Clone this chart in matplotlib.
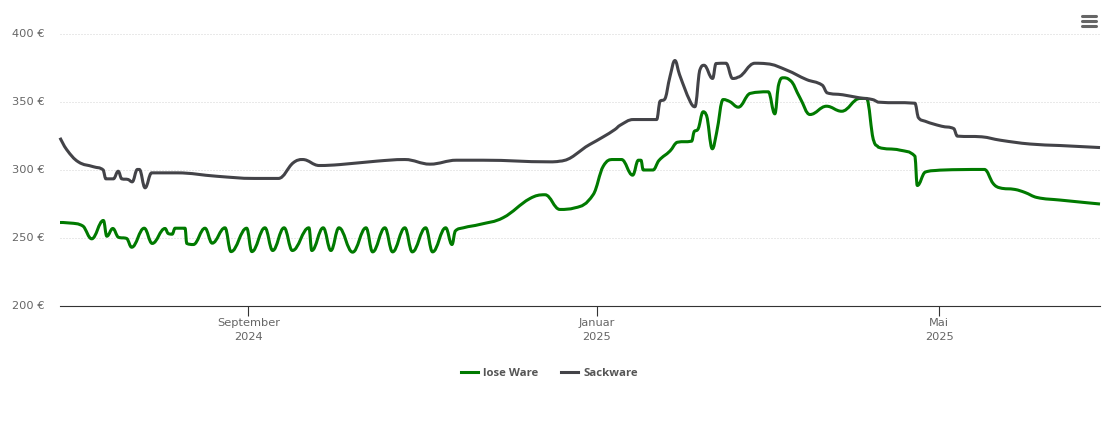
import datetime as dt
import numpy as np
import matplotlib
matplotlib.use("Agg")
import matplotlib.pyplot as plt
from matplotlib.path import Path
from matplotlib.patches import PathPatch
from matplotlib.lines import Line2D

START = dt.date(2024, 6, 27)
END_DAY = 364.3
TICK_DATES = [dt.date(2024, 9, 1), dt.date(2025, 1, 1), dt.date(2025, 5, 1)]
TICK_LABELS = ["September\n2024", "Januar\n2025", "Mai\n2025"]
Y_TICKS = [200, 250, 300, 350, 400]
SERIES_NAMES = ["lose Ware", "Sackware"]

lose_days = [0, 3.5, 8.1, 11.1, 15.2, 16.4, 18.5, 20.4, 23.4, 25.1, 29.5, 32.3, 36.8, 37.9, 39.3, 40.3,
             43.8, 44.4, 46.7, 50.8, 53.3, 57.8, 59.9, 65.4, 67.2, 71.8, 74.5, 78.5, 81.4, 87.2, 88.2,
             92.2, 94.9, 97.7, 102.5, 107.2, 109.5, 113.8, 116.5, 120.8, 123.4, 128.1, 130.5, 135.1,
             137.3, 138.4, 141.3, 147.1, 155.2, 164.6, 169.9, 175.1, 180.4, 186.8, 190.3, 193.8, 196.7,
             200.6, 202.6, 203.5, 204.3, 207.7, 209.8, 213.7, 216.2, 221.3, 222.1, 223.4, 225.3, 226.3,
             228.5, 230, 232.3, 234.7, 237.6, 241.7, 248.1, 250.4, 251.6, 253.3, 255.7, 259.2, 262.7,
             268.5, 273.8, 280.2, 282.5, 285.1, 286.6, 294.2, 299.5, 300.3, 303, 308.2, 323.8, 326.9,
             329.2, 334.5, 338, 342.2, 350.3, 364.3]
lose_eur = [261.4, 261.0, 258.7, 249.4, 262.9, 251.3, 257, 250.6, 249.6, 243.2, 257.2, 246, 257, 253.3, 252.8, 257.2,
            257.2, 246, 245.2, 257.2, 246.2, 257.5, 240, 257.2, 240, 257.5, 240.8, 257.5, 240.8, 257.5, 240.8,
            257.5, 240.8, 257.5, 239.6, 257.5, 239.8, 257.5, 239.8, 257.5, 239.8, 257.5, 239.8, 257.5,
            245.2, 255, 257.5, 260, 264.9, 279, 281.8, 271, 272.2, 282, 302.8, 307.7, 307.7,
            296.2, 307.2, 307.2, 300, 300, 307, 314, 320.4, 321.2, 328.1, 329.8, 342.8, 340.8,
            315.6, 327.4, 351.8, 350.2, 346.2, 356.3, 357.5, 341.3, 361.6, 367.8, 366, 353.1, 340.8,
            346.9, 343.2, 352.6, 352.6, 321.2, 316.8, 314.6, 310.1, 288.6, 298.4, 299.9, 300.4, 290,
            286.9, 285.7, 283.5, 279.8, 277.9, 275]

sack_days = [0, 2.3, 6.4, 11.7, 15.2, 16.1, 18.7, 20.4, 21.6, 23.9, 25.3, 27.1, 27.8, 29.8, 32.1, 40.9,
             54.9, 68.1, 76.5, 81.7, 85, 90.8, 98.1, 110.9, 120.8, 129.6, 138.9, 148.1, 171.6, 175.1,
             185.6, 190.3, 194.4, 196.2, 200.8, 209, 210.2, 211.7, 213.7, 215.4, 217, 220.7, 222.4,
             224.2, 225.6, 228.6, 229.8, 233.3, 235.6, 237.4, 243.4, 247.6, 254.6, 261.5, 267, 268.6,
             274.2, 280, 284.6, 286.5, 299.5, 300.6, 303, 308.8, 313.2, 314.3, 322.9, 329.4, 339.8,
             350.3, 364.3]
sack_eur = [323.7, 315.1, 306, 302.4, 299.9, 293.5, 293.5, 299.1, 293.5, 293, 291.3, 300.4, 300.4, 286.9, 297.9, 297.9,
            295.4, 293.8, 293.8, 305.3, 307.7, 303.3, 304, 306.5, 307.7, 304.3, 307.2, 307.2, 306, 306.5,
            318.8, 324.4, 329.8, 332.9, 337.1, 337.1, 350.6, 351.8, 369, 380.5, 370.2, 350.6, 346.5,
            373.9, 377, 367.3, 378.3, 378.5, 367.3, 368.2, 378.5, 378.1, 373.4, 366.5, 362.4, 356.8,
            355.3, 353.1, 351.8, 349.9, 349.1, 338.8, 335.9, 332.2, 330.3, 324.9, 324.4, 321.9, 319.1,
            318, 316.5]

GREEN = "#007a00"
GRAY = "#434348"
TEXT = "#666666"

plt.rcParams["font.family"] = ["DejaVu Sans"]


def spline_path(xs, ys, smoothing=1.5):
    """Smooth Bezier path through the data (Highcharts-like spline)."""
    x, y = np.asarray(xs, float), np.asarray(ys, float)
    verts = [(x[0], y[0])]
    codes = [Path.MOVETO]
    d = smoothing + 1
    n = len(x)
    left = np.column_stack([x, y]).copy()
    right = left.copy()
    for i in range(1, n - 1):
        lx, ly = (smoothing * x[i] + x[i - 1]) / d, (smoothing * y[i] + y[i - 1]) / d
        rx, ry = (smoothing * x[i] + x[i + 1]) / d, (smoothing * y[i] + y[i + 1]) / d
        if rx != lx:
            slope = (ry - ly) / (rx - lx)
            corr = slope * (x[i] - lx) + ly - y[i]
            ly, ry = ly - corr, ry - corr
            if (ly > y[i] and ly > y[i - 1]) or (ly < y[i] and ly < y[i - 1]):
                ly = max(y[i], y[i - 1]) if ly > y[i] else min(y[i], y[i - 1])
                ry = 2 * y[i] - ly
            elif (ry > y[i] and ry > y[i + 1]) or (ry < y[i] and ry < y[i + 1]):
                ry = max(y[i], y[i + 1]) if ry > y[i] else min(y[i], y[i + 1])
                ly = 2 * y[i] - ry
        left[i] = lx, ly
        right[i] = rx, ry
    for i in range(1, n):
        verts += [tuple(right[i - 1]), tuple(left[i]), (x[i], y[i])]
        codes += [Path.CURVE4] * 3
    return Path(verts, codes)


W, H = 1110, 423
fig = plt.figure(figsize=(W / 100, H / 100), dpi=100)
ax = fig.add_axes([60 / W, (H - 306) / H, 1040 / W, 272 / H])
ax.set_xlim(0, END_DAY)
ax.set_ylim(200, 400)

for sp in ["top", "left", "right"]:
    ax.spines[sp].set_visible(False)
ax.spines["bottom"].set_color("#333333")
ax.spines["bottom"].set_linewidth(0.8)
ax.set_yticks(Y_TICKS)
ax.set_yticklabels([f"{v} €" for v in Y_TICKS], color=TEXT, fontsize=8.2)
ax.tick_params(axis="y", length=0, pad=10.8)
for lab in ax.get_yticklabels():
    lab.set_verticalalignment("center")
ax.set_xticks([(d - START).days for d in TICK_DATES])
ax.set_xticklabels(TICK_LABELS, color=TEXT, fontsize=8.2, linespacing=1.6)
ax.tick_params(axis="x", length=7.2, width=0.8, color="#333333", pad=1.2)
ax.grid(axis="y", color="#d4d4d4", linewidth=0.72, linestyle=(0, (1, 2)))
ax.set_axisbelow(True)

for xs, ys, col in [(lose_days, lose_eur, GREEN), (sack_days, sack_eur, GRAY)]:
    ax.add_patch(PathPatch(spline_path(xs, ys), fill=False, edgecolor=col, linewidth=2.2,
                           capstyle="butt", joinstyle="round", zorder=3, clip_on=False))

handles = [Line2D([], [], color=GREEN, linewidth=2.2), Line2D([], [], color=GRAY, linewidth=2.2)]
fig.legend(handles, SERIES_NAMES, loc="center", bbox_to_anchor=(549.5 / W, 1 - 373.5 / H), ncol=2, frameon=False,
           handlelength=1.5, handletextpad=0.45, columnspacing=1.95, labelcolor="#555555",
           prop={"family": "Open Sans", "weight": "bold", "size": 8.2})

# export menu icon
for yp in (16, 21, 26):
    fig.add_artist(Line2D([1082 / W, 1096 / W], [1 - yp / H] * 2, color="#666666", linewidth=2.2,
                          solid_capstyle="round", transform=fig.transFigure))

fig.savefig("out.png", dpi=100)
